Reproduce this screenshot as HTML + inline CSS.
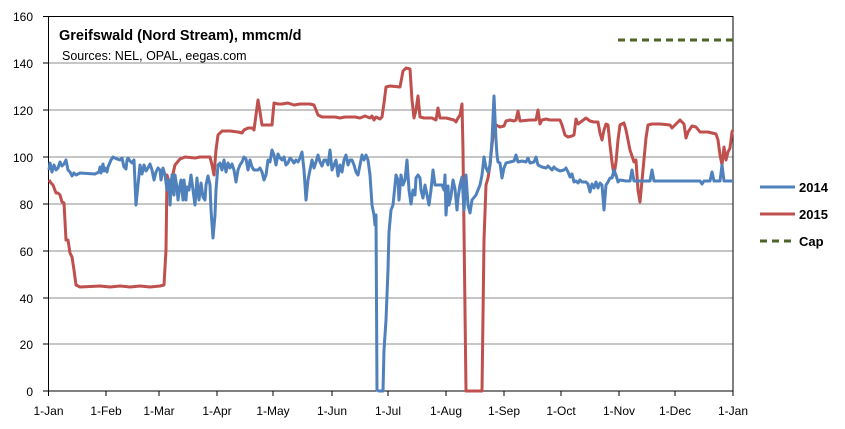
<!DOCTYPE html>
<html><head><meta charset="utf-8"><style>
html,body{margin:0;padding:0;background:#fff;}
svg{display:block;font-family:"Liberation Sans",sans-serif;}
</style></head><body>
<svg width="845" height="429" viewBox="0 0 845 429">
<g stroke="#8c8c8c" stroke-width="1">
<line x1="48.5" y1="63" x2="733" y2="63"/><line x1="48.5" y1="110" x2="733" y2="110"/>
<line x1="48.5" y1="157" x2="733" y2="157"/><line x1="48.5" y1="204" x2="733" y2="204"/>
<line x1="48.5" y1="251" x2="733" y2="251"/><line x1="48.5" y1="298" x2="733" y2="298"/>
<line x1="48.5" y1="344" x2="733" y2="344"/>
</g>
<g stroke="#000" stroke-width="1" fill="none">
<rect x="48.5" y="16.5" width="684.5" height="374.5"/>
<line x1="43" y1="16.5" x2="48.5" y2="16.5"/><line x1="43" y1="63" x2="48.5" y2="63"/><line x1="43" y1="110" x2="48.5" y2="110"/><line x1="43" y1="157" x2="48.5" y2="157"/><line x1="43" y1="204" x2="48.5" y2="204"/><line x1="43" y1="251" x2="48.5" y2="251"/><line x1="43" y1="298" x2="48.5" y2="298"/><line x1="43" y1="344" x2="48.5" y2="344"/><line x1="43" y1="391" x2="48.5" y2="391"/>
<path d="M48.5 391v5M106 391v5M159 391v5M217 391v5M273 391v5M332 391v5M388 391v5M446 391v5M504 391v5M561 391v5M619 391v5M675 391v5M733 391v5"/>
</g>
<g font-size="12" fill="#000" text-anchor="end">
<text x="33" y="21">160</text><text x="33" y="68">140</text><text x="33" y="115">120</text><text x="33" y="162">100</text><text x="33" y="209">80</text><text x="33" y="256">60</text><text x="33" y="303">40</text><text x="33" y="349">20</text><text x="33" y="396">0</text>
</g>
<g font-size="12" fill="#000" text-anchor="middle">
<text x="48.5" y="415">1-Jan</text><text x="106" y="415">1-Feb</text><text x="159" y="415">1-Mar</text><text x="217" y="415">1-Apr</text><text x="273" y="415">1-May</text><text x="332" y="415">1-Jun</text><text x="388" y="415">1-Jul</text><text x="446" y="415">1-Aug</text><text x="504" y="415">1-Sep</text><text x="561" y="415">1-Oct</text><text x="619" y="415">1-Nov</text><text x="675" y="415">1-Dec</text><text x="733" y="415">1-Jan</text>
</g>
<text x="59" y="40" font-size="14.5" font-weight="bold">Greifswald (Nord Stream), mmcm/d</text>
<text x="62" y="60" font-size="12.5">Sources:  NEL, OPAL, eegas.com</text>
<line x1="618" y1="40" x2="734" y2="40" stroke="#4f6228" stroke-width="3" stroke-dasharray="7,5"/>
<polyline fill="none" stroke="#c0504d" stroke-width="3" stroke-linejoin="round" points="49,180 51,183 53,185 56,193 58,193 60,195 62,202 64,203 66,240 68,240 70,253 72,257 74,270 76,285 78,286 80,287 100,286 110,287 120,286 130,287 140,286 150,287 160,286 164,285 166,250 167,175 170,185 172,178 175,165 180,159 185,157 195,158 200,157 210,157 212,165 214,175 216,150 218,135 222,131 230,131 238,132 242,133 244,130 248,128 252,128 254,130 256,115 258,100 260,112 262,125 266,125 272,125 274,103 278,104 282,104 288,103 294,105 300,104 310,104 314,105 318,115 322,117 330,117 335,117 340,118 345,117 350,117 355,117 360,118 365,116 370,118 372,116 374,120 376,117 378,118 380,119 382,117 384,103 386,87 390,86 400,87 403,71 406,68 410,69 412,100 414,118 416,110 418,96 420,117 424,118 432,118 436,120 438,108 440,118 446,118 450,119 454,120 456,122 458,118 460,115 462,104 463,150 466,391 480,391 482,391 484,240 486,185 488,178 490,165 492,145 494,127 496,125 500,127 504,126 506,121 510,120 514,121 516,120 518,111 520,121 530,120 536,120 538,110 540,124 542,120 546,119 550,120 560,120 562,125 565,135 568,137 572,136 574,135 576,119 578,124 582,121 586,118 590,121 594,122 598,122 600,133 602,140 604,130 606,124 608,125 610,145 612,162 614,175 616,162 618,140 620,125 624,123 626,130 630,150 632,156 634,162 636,160 638,190 640,202 643,170 646,138 648,125 652,124 660,124 670,125 672,128 676,124 680,120 684,124 686,138 688,132 692,126 696,127 700,132 708,132 712,133 716,134 718,140 720,155 722,165 724,147 726,160 728,152 730,148 732,132 733,130"/>
<polyline fill="none" stroke="#4f81bd" stroke-width="3" stroke-linejoin="round" points="49,170 50,163 52,172 54,165 56,170 58,168 60,162 62,166 64,164 66,160 68,170 70,172 72,176 74,173 76,175 78,174 80,173 95,174 99,172 100,167 101,173 103,164 104,171 105,168 107,172 108,167 111,160 113,157 117,159 120,160 122,158 124,167 126,169 127,160 128,158 130,161 132,163 134,160 136,205 138,185 140,165 142,174 144,165 146,171 148,168 150,164 152,170 154,180 156,172 158,168 160,170 161,180 163,168 165,175 167,190 169,180 170,205 172,175 174,195 175,175 177,188 178,200 180,185 181,180 183,200 184,180 186,200 187,187 189,190 191,175 193,190 195,205 197,178 198,192 199,200 201,183 203,197 205,200 206,185 208,176 210,185 211,210 213,238 215,215 216,190 218,165 220,163 222,170 224,160 226,172 228,163 230,168 232,164 234,170 236,182 238,170 240,165 242,162 244,157 246,159 248,170 250,160 252,167 254,170 258,170 260,168 262,172 264,180 266,175 268,160 270,162 272,150 274,155 276,165 278,154 280,158 282,160 284,157 286,165 288,163 290,158 292,160 294,163 296,160 298,162 300,158 302,152 304,170 306,200 308,180 310,170 312,160 314,168 316,162 318,155 320,162 322,166 324,160 326,160 328,165 330,150 332,170 334,165 336,160 338,176 340,165 342,172 344,160 346,155 348,165 350,160 352,160 354,165 356,172 358,175 360,165 362,155 364,160 366,155 368,160 370,175 372,205 374,215 375,225 376,215 377,390 379,391 383,391 384,350 386,320 388,270 389,232 391,210 393,205 395,185 396,175 398,180 399,200 401,175 403,185 405,180 407,160 409,190 411,204 413,190 415,195 416,178 418,175 420,178 421,190 423,198 425,185 427,195 429,205 431,190 433,170 435,185 437,185 442,185 444,190 445,175 446,215 448,186 449,205 451,196 453,180 455,189 457,210 458,198 460,185 462,177 464,210 466,175 468,205 470,213 472,200 476,195 480,185 482,175 484,157 486,168 488,172 490,165 492,140 494,96 496,140 497,155 498,162 500,163 502,178 504,168 506,163 510,162 514,161 516,155 518,162 522,161 526,162 528,158 530,163 534,162 536,157 538,165 542,167 546,168 548,166 552,170 554,167 556,169 560,171 564,170 566,168 568,172 570,177 572,174 574,182 576,181 578,183 580,180 582,182 586,182 588,184 590,192 592,184 594,188 596,182 598,188 600,183 602,185 604,210 606,185 608,182 610,178 612,178 614,170 616,175 618,182 620,180 626,181 630,181 632,170 634,181 650,181 652,170 654,181 700,181 702,184 704,181 710,181 712,172 714,181 720,181 722,165 724,181 733,181"/>
<line x1="760" y1="187" x2="795" y2="187" stroke="#4f81bd" stroke-width="3"/>
<line x1="760" y1="214" x2="795" y2="214" stroke="#c0504d" stroke-width="3"/>
<line x1="760" y1="241" x2="795" y2="241" stroke="#4f6228" stroke-width="3" stroke-dasharray="7,5"/>
<g font-size="13" font-weight="bold"><text x="799" y="192">2014</text><text x="799" y="219">2015</text><text x="799" y="246">Cap</text></g>
</svg>
</body></html>
